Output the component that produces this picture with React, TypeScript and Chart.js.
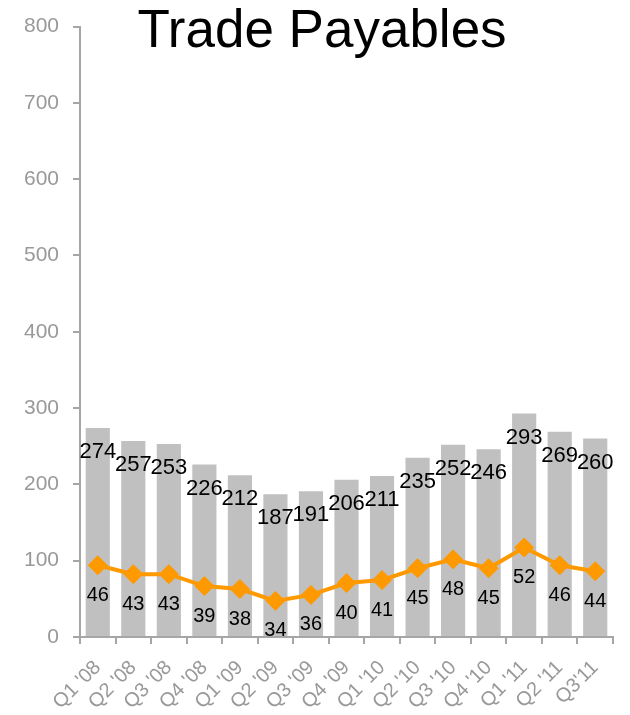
import React, { useEffect, useRef } from 'react';
import { Chart, registerables } from 'chart.js';

Chart.register(...registerables);

const categories = ["Q1 '08", "Q2 '08", "Q3 '08", "Q4 '08", "Q1 '09", "Q2 '09", "Q3 '09", "Q4 '09", "Q1 '10", "Q2 '10", "Q3 '10", "Q4 '10", "Q1 '11", "Q2 '11", "Q3'11"];
const tradePayables = [274, 257, 253, 226, 212, 187, 191, 206, 211, 235, 252, 246, 293, 269, 260];
const payableDays = [46, 43, 43, 39, 38, 34, 36, 40, 41, 45, 48, 45, 52, 46, 44];
const yMin = 0;
const yMax = 800;
const yStep = 100;
const titleText = 'Trade Payables';

const FONT = '"Liberation Sans", Arial, sans-serif';
const GRAY = '#a6a6a6';
const TICK_GRAY = '#999999';

const labelPlugin = {
  id: 'valueLabels',
  afterDatasetsDraw(chart: any) {
    const ctx = chart.ctx;
    ctx.save();
    ctx.fillStyle = '#000';
    ctx.textAlign = 'center';
    ctx.textBaseline = 'middle';
    chart.data.datasets.forEach((ds: any, i: number) => {
      const meta = chart.getDatasetMeta(i);
      meta.data.forEach((el: any, j: number) => {
        const v = ds.data[j];
        if (ds.type === 'bar') {
          ctx.font = `22px ${FONT}`;
          ctx.fillText(String(v), el.x, el.y + 24);
        } else {
          ctx.font = `20px ${FONT}`;
          ctx.fillText(String(v), el.x, el.y + 30);
        }
      });
    });
    ctx.restore();
  },
};

const titlePlugin = {
  id: 'overlayTitle',
  afterDraw(chart: any) {
    const ctx = chart.ctx;
    ctx.save();
    ctx.fillStyle = '#000';
    ctx.font = `53px ${FONT}`;
    ctx.textAlign = 'center';
    ctx.textBaseline = 'alphabetic';
    ctx.fillText(titleText, 322, 47);
    ctx.restore();
  },
};

export default function App() {
  const ref = useRef<HTMLCanvasElement>(null);

  useEffect(() => {
    if (!ref.current) return;
    const chart = new Chart(ref.current, {
      data: {
        labels: categories,
        datasets: [
          {
            type: 'line',
            label: 'Days',
            data: payableDays,
            yAxisID: 'y1',
            borderColor: '#FF9900',
            backgroundColor: '#FF9900',
            borderWidth: 4,
            pointStyle: 'rectRot',
            pointRadius: 9.5,
            pointBorderWidth: 1,
            pointBackgroundColor: '#FF9900',
            pointBorderColor: '#FF9900',
            tension: 0,
            order: 0,
          } as any,
          {
            type: 'bar',
            label: 'Trade Payables',
            data: tradePayables,
            yAxisID: 'y',
            backgroundColor: '#C0C0C0',
            barPercentage: 0.68,
            categoryPercentage: 1,
            order: 1,
          } as any,
        ],
      },
      options: {
        responsive: false,
        animation: false,
        layout: { padding: { top: 25, right: 17, bottom: 0, left: 0 } },
        plugins: {
          legend: { display: false },
          tooltip: { enabled: false },
          title: { display: false },
        },
        scales: {
          x: {
            type: 'category',
            offset: true,
            grid: {
              display: true,
              offset: true,
              drawOnChartArea: false,
              drawTicks: true,
              tickLength: 7,
              color: GRAY,
              lineWidth: 2,
            },
            border: { display: true, color: GRAY, width: 2 },
            ticks: {
              autoSkip: false,
              minRotation: 45,
              maxRotation: 45,
              color: TICK_GRAY,
              font: { family: FONT, size: 20 },
              padding: 12,
            },
            afterFit(scale: any) {
              scale.height = 78;
            },
          },
          y: {
            type: 'linear',
            position: 'left',
            min: yMin,
            max: yMax,
            ticks: {
              stepSize: yStep,
              color: TICK_GRAY,
              font: { family: FONT, size: 21 },
              padding: 14,
            },
            grid: {
              display: true,
              drawOnChartArea: false,
              drawTicks: true,
              tickLength: 7,
              color: GRAY,
              lineWidth: 2,
            },
            border: { display: true, color: GRAY, width: 2 },
            afterFit(scale: any) {
              scale.width = 80;
            },
          },
          y1: {
            type: 'linear',
            display: false,
            min: 21.8,
            max: 227.8,
          },
        },
      } as any,
      plugins: [labelPlugin, titlePlugin],
    });
    return () => chart.destroy();
  }, []);

  return (
    <div style={{ position: 'fixed', left: 0, top: 0, width: 630, height: 715, background: '#fff' }}>
      <canvas ref={ref} width={630} height={715} style={{ display: 'block' }} />
    </div>
  );
}
